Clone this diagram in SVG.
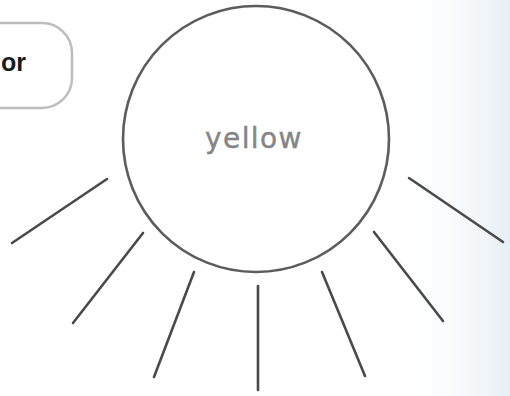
<svg xmlns="http://www.w3.org/2000/svg" width="510" height="396" viewBox="0 0 510 396">
  <defs>
    <linearGradient id="scan" x1="0" y1="0" x2="1" y2="0">
      <stop offset="0" stop-color="#ffffff" stop-opacity="0"/>
      <stop offset="1" stop-color="#e6eff5"/>
    </linearGradient>
    <style>
      .ray { stroke: #4a4a4a; stroke-width: 2.6; stroke-linecap: round; fill: none; }
      .sun { fill: #ffffff; stroke: #5c5c5c; stroke-width: 2.6; }
      .pill { fill: #ffffff; stroke: #bdbdbd; stroke-width: 2.5; }
      .label { font-family: "DejaVu Sans", "Noto Sans", sans-serif; font-size: 28px; letter-spacing: 1.4px; fill: #858585; stroke: #858585; stroke-width: 0.4; }
      .bold { font-family: "Liberation Sans", Arial, sans-serif; font-weight: bold; font-size: 25px; fill: #1a1a1a; }
    </style>
  </defs>
  <rect x="0" y="0" width="510" height="396" fill="#ffffff"/>
  <rect x="390" y="0" width="120" height="396" fill="url(#scan)"/>

  <g id="pill">
    <rect class="pill" x="-40" y="23" width="112" height="85" rx="30" ry="30"/>
    <text class="bold" x="1" y="71">or</text>
  </g>

  <g id="connectors">
    <line class="ray" x1="107" y1="179" x2="12" y2="243"/>
    <line class="ray" x1="143" y1="233" x2="73" y2="323"/>
    <line class="ray" x1="194" y1="272" x2="154" y2="377"/>
    <line class="ray" x1="258" y1="286" x2="258" y2="390"/>
    <line class="ray" x1="322" y1="272" x2="365" y2="376"/>
    <line class="ray" x1="374" y1="232" x2="443" y2="321"/>
    <line class="ray" x1="409" y1="178" x2="503" y2="242"/>
  </g>

  <g id="sun">
    <circle class="sun" cx="256" cy="139" r="133"/>
    <text class="label" x="254" y="148" text-anchor="middle">yellow</text>
  </g>
</svg>
